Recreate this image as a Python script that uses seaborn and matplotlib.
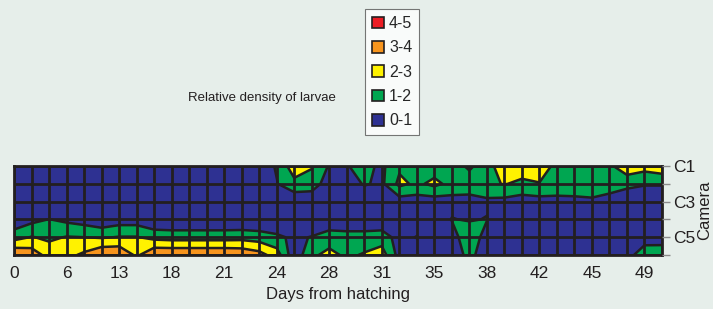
import numpy as np
import matplotlib
matplotlib.use("Agg")
import matplotlib.pyplot as plt
from matplotlib.patches import Patch
import seaborn as sns

# relative larval density, one row per camera (C1 top .. C6 bottom), one value per sampling day
cameras = ["C1", "C2", "C3", "C4", "C5", "C6"]
day_labels = [0, 6, 13, 18, 21, 24, 28, 31, 35, 38, 42, 45, 49]

c1 = [0.2, 0.2, 0.2, 0.2, 0.2, 0.2, 0.2, 0.2, 0.2, 0.2, 0.2, 0.2, 0.2, 0.3, 0.4,
      1.1, 2.6, 2.1, 0.9, 0.95, 1.3, 0.8, 1.8, 1.6, 1.5, 1.5, 0.8, 1.6, 2.6,
      2.5, 2.6, 1.7, 1.5, 1.5, 1.8, 2.7, 2.4, 2.7]
c2 = [0.2, 0.2, 0.2, 0.2, 0.2, 0.2, 0.2, 0.2, 0.2, 0.2, 0.2, 0.2, 0.2, 0.2, 0.3,
      0.95, 1.7, 1.5, 0.5, 0.4, 1.1, 0.8, 2.25, 1.8, 2.25, 1.7, 1.6, 1.8, 2.05,
      1.8, 1.95, 1.6, 1.7, 1.7, 1.6, 1.3, 1.1, 1.1]
c3 = [0.1, 0.1, 0.1, 0.1, 0.1, 0.1, 0.1, 0.1, 0.1, 0.1, 0.1, 0.1, 0.1, 0.1, 0.1,
      0.1, 0.2, 0.3, 0.1, 0.1, 0.2, 0.3, 0.5, 0.5, 0.5, 0.6, 0.6, 0.8, 0.7,
      0.5, 0.6, 0.7, 0.7, 0.8, 0.5, 0.2, 0.1, 0.1]
c4 = [0.2, 0.7, 1.02, 0.77, 0.54, 0.2, 0.5, 0.5, 0.05, 0.05, 0.05, 0.05, 0.05, 0.05, 0.05,
      0.05, 0.05, 0.1, 0.2, 0.2, 0.2, 0.2, 0.1, 0.3, 0.1, 1.05, 0.9, 1.05, 0.1,
      0.1, 0.1, 0.1, 0.1, 0.1, 0.1, 0.1, 0.1, 0.1]
c5 = [1.6, 2.05, 1.8, 2.05, 2.0, 1.9, 2.05, 2.05, 1.7, 1.6, 1.6, 1.6, 1.6, 1.65, 1.5,
      1.2, 0.8, 1.05, 1.5, 1.4, 1.4, 1.5, 0.6, 1.05, 0.4, 0.5, 1.8, 0.5, 0.2,
      0.2, 0.2, 0.2, 0.2, 0.2, 0.2, 0.2, 0.5, 0.6]
c6 = [3.95, 3.6, 2.6, 2.7, 3.2, 3.9, 3.9, 2.8, 3.9, 3.9, 3.9, 3.9, 3.9, 3.8, 3.4,
      2.5, 0.3, 1.8, 2.3, 1.8, 2.1, 2.5, 0.6, 0.3, 0.3, 0.4, 1.3, 0.4, 0.2,
      0.2, 0.2, 0.2, 0.2, 0.2, 0.2, 0.6, 1.6, 1.5]

levels = [0, 1, 2, 3, 4, 5]
level_names = ["0-1", "1-2", "2-3", "3-4", "4-5"]
level_colors = ["#2E3192", "#00A651", "#FFF200", "#F7941D", "#ED1C24"]

bg = "#E6EEEA"
ink = "#231F20"

sns.set_style("white")
plt.rcParams["font.family"] = ["Liberation Sans", "DejaVu Sans"]

Z = np.array([c1, c2, c3, c4, c5, c6])
x = np.arange(Z.shape[1])
y = np.arange(1, len(cameras) + 1)

fig = plt.figure(figsize=(7.13, 3.09), dpi=100, facecolor=bg)
ax = fig.add_axes([14 / 713, 54 / 309, 648 / 713, 89 / 309])
ax.set_facecolor(bg)

ax.contourf(x, y, Z, levels=levels, colors=level_colors)
ax.contour(x, y, Z, levels=levels[1:-1], colors=ink, linewidths=1.8)

ax.set_xlim(0, x[-1])
ax.set_ylim(len(cameras), 1)

# tick at every sample, label every third one
ax.set_xticks(x)
ax.set_xticklabels([str(day_labels[i // 3]) if i % 3 == 0 else "" for i in x], fontsize=12.5, color=ink)
ax.set_yticks(y)
ax.set_yticklabels([c if i % 2 == 0 else "" for i, c in enumerate(cameras)], fontsize=12.5, color=ink)
ax.yaxis.tick_right()
ax.yaxis.set_label_position("right")
ax.tick_params(axis="both", direction="out", length=6, width=1, color="#8C8C8C", pad=2)
ax.tick_params(axis="y", right=True, left=False)

ax.set_axisbelow(False)
ax.grid(True, color=ink, linewidth=2)
for sp in ax.spines.values():
    sp.set_visible(True)
    sp.set_color(ink)
    sp.set_linewidth(2)

ax.set_xlabel("Days from hatching", fontsize=12, color=ink, labelpad=4)
ax.set_ylabel("Camera", fontsize=12, color=ink, labelpad=1)

handles = [Patch(facecolor=c, edgecolor=ink, linewidth=1.2, label=n)
           for c, n in zip(level_colors[::-1], level_names[::-1])]
leg = fig.legend(handles=handles, loc="upper left", bbox_to_anchor=(365 / 713, 1 - 9 / 309),
                 fontsize=11.5, frameon=True, fancybox=False, handlelength=0.75, handleheight=0.75,
                 handletextpad=0.3, labelspacing=0.58, borderpad=0.45, borderaxespad=0)
leg.get_frame().set_edgecolor("#555555")
leg.get_frame().set_linewidth(0.8)
leg.get_frame().set_facecolor("white")

fig.text(188 / 713, 1 - 98 / 309, "Relative density of larvae", fontsize=9.5, color=ink, va="center")

fig.savefig("out.png", dpi=100, facecolor=bg)
